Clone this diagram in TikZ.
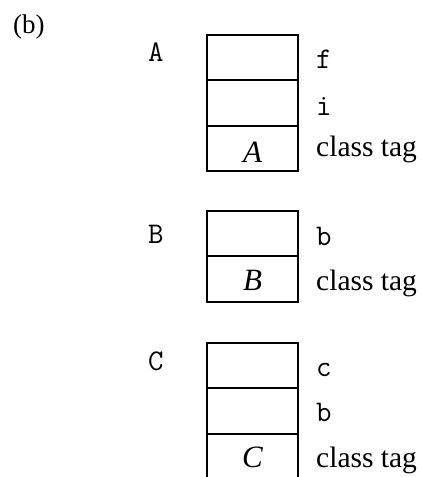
\documentclass[tikz,border=0pt]{standalone}
\usepackage{fontspec}
\setmainfont{Liberation Serif}
\begin{document}
\begin{tikzpicture}[x=1pt,y=-1pt,
  cell/.style={draw, line width=2pt, minimum width=91pt, minimum height=45.3pt,
    inner sep=0pt, outer sep=0pt, anchor=north},
  tagtext/.style={font=\fontsize{31}{33}\selectfont\itshape, inner sep=0pt, anchor=base},
  fieldlbl/.style={font=\fontsize{30}{32}\selectfont\ttfamily, inner sep=0pt, anchor=base west},
  taglbl/.style={font=\fontsize{29.5}{31}\selectfont, inner sep=0pt, anchor=base west},
  classlbl/.style={font=\fontsize{30}{32}\selectfont\ttfamily, inner sep=0pt, anchor=base west}]
\useasboundingbox (0,0) rectangle (422,477);
\clip (0,0) rectangle (422,477);

\node[font=\fontsize{27}{29}\selectfont, inner sep=0pt, anchor=base west] (title) at (13,33) {(b)};

% object layout of class A
\node[classlbl] (lA) at (148,61) {A};
\node[cell] (a1) at (252.5,35) {};
\node[cell] (a2) at (a1.south) {};
\node[cell] (a3) at (a2.south) {};
\node[tagtext] (ta) at (252.5,162) {A};
\node[fieldlbl] (fa1) at (316,68) {f};
\node[fieldlbl] (fa2) at (316,115) {i};
\node[taglbl] (ca) at (316,156) {class tag};

% object layout of class B
\node[classlbl] (lB) at (148,243) {B};
\node[cell] (b1) at (252.5,211) {};
\node[cell] (b2) at (b1.south) {};
\node[tagtext] (tb) at (252.5,290) {B};
\node[fieldlbl] (fb1) at (316,245) {b};
\node[taglbl] (cb) at (316,290) {class tag};

% object layout of class C
\node[classlbl] (lC) at (148,370) {C};
\node[cell] (c1) at (252.5,343) {};
\node[cell] (c2) at (c1.south) {};
\node[cell] (c3) at (c2.south) {};
\node[tagtext] (tc) at (252.5,467) {C};
\node[fieldlbl] (fc1) at (316,376) {c};
\node[fieldlbl] (fc2) at (316,421) {b};
\node[taglbl] (cc) at (316,467) {class tag};
\end{tikzpicture}
\end{document}
